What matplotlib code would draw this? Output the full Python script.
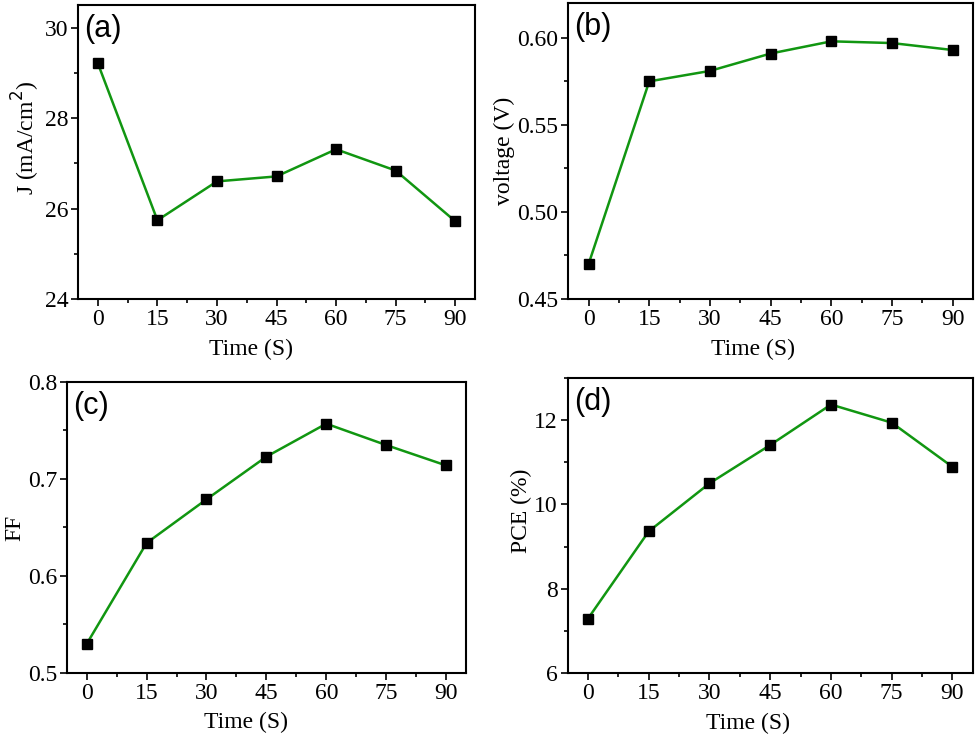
import matplotlib

matplotlib.use("Agg")
import matplotlib.pyplot as plt
from matplotlib.ticker import AutoMinorLocator, MultipleLocator

plt.rcParams["font.family"] = ["Liberation Serif", "DejaVu Serif"]

time_s = [0, 15, 30, 45, 60, 75, 90]
jsc = [29.21, 25.74, 26.60, 26.71, 27.31, 26.84, 25.72]
voc = [0.470, 0.575, 0.581, 0.591, 0.598, 0.597, 0.593]
ff = [0.530, 0.634, 0.679, 0.723, 0.757, 0.735, 0.714]
pce = [7.29, 9.36, 10.50, 11.41, 12.37, 11.94, 10.89]

GREEN = "#119611"

# (position rect, values, ylabel, ylim, major step, tick fmt, tag,
#  xlabel x-pos, ylabel y-pos)
panels = [
    ([0.0796, 0.5949, 0.4051, 0.3983], jsc, r"J (mA/cm$^2$)", (24, 30.5), 2, "{:.0f}", "(a)", 0.436, 0.548),
    ([0.5799, 0.5949, 0.4130, 0.4010], voc, "voltage (V)", (0.45, 0.62), 0.05, "{:.2f}", "(b)", 0.457, 0.5),
    ([0.0681, 0.0881, 0.4074, 0.3943], ff, "FF", (0.5, 0.8), 0.1, "{:.1f}", "(c)", 0.448, 0.5),
    ([0.5793, 0.0881, 0.4133, 0.3997], pce, "PCE (%)", (6, 13), 2, "{:.0f}", "(d)", 0.446, 0.549),
]

fig = plt.figure(figsize=(9.8, 7.38), dpi=100)
for rect, vals, ylab, ylim, step, fmt, tag, xlx, yly in panels:
    ax = fig.add_axes(rect)
    ax.plot(time_s, vals, color=GREEN, lw=1.8, marker="s", ms=6.6,
            mfc="black", mec="black", zorder=3)
    ax.set_xlim(-5, 95)
    ax.set_ylim(*ylim)
    ax.set_xticks(time_s)
    ax.xaxis.set_minor_locator(AutoMinorLocator(2))
    ax.yaxis.set_major_locator(MultipleLocator(step))
    ax.yaxis.set_minor_locator(AutoMinorLocator(2))
    ax.yaxis.set_major_formatter(matplotlib.ticker.FuncFormatter(
        lambda v, p, f=fmt: f.format(v)))
    for sp in ax.spines.values():
        sp.set_linewidth(1.5)
    ax.tick_params(which="both", direction="out", top=False, right=False,
                   width=1.2, labelsize=17, pad=2)
    ax.tick_params(which="major", length=5)
    ax.tick_params(which="minor", length=3)
    ax.set_xlabel("Time (S)", fontsize=17, labelpad=4)
    ax.xaxis.set_label_coords(xlx, -0.135)
    ax.set_ylabel(ylab, fontsize=17, labelpad=2)
    ax.yaxis.label.set_y(yly)
    ax.text(0.015, 0.97, tag, transform=ax.transAxes, ha="left", va="top",
            fontsize=22, family=["Liberation Sans", "DejaVu Sans"])

fig.savefig("out.png", dpi=100)
